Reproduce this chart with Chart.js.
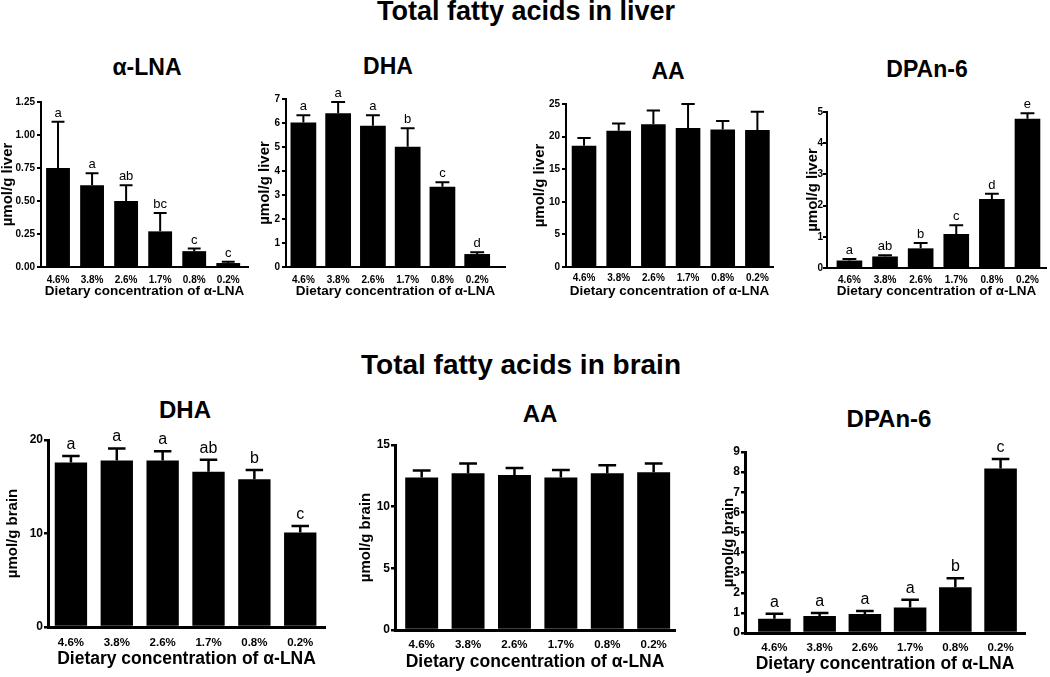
<!DOCTYPE html>
<html>
<head>
<meta charset="utf-8">
<script src="https://cdn.jsdelivr.net/npm/chart.js@4.4.1/dist/chart.umd.min.js"></script>
<style>
  body { margin: 0; background: #fff; }
  #fig { position: relative; width: 1050px; height: 677px; overflow: hidden; background: #fff;
         font-family: "Liberation Sans", Arial, sans-serif; color: #000; }
  .ttl { position: absolute; font-weight: bold; white-space: nowrap; transform: translateX(-50%); }
  canvas { position: absolute; }
</style>
</head>
<body>
<div id="fig"></div>
<script>
// ---- data ----
const categories = ['4.6%', '3.8%', '2.6%', '1.7%', '0.8%', '0.2%'];

// liver
const liverLnaMean = [0.75, 0.62, 0.50, 0.27, 0.12, 0.03];
const liverLnaSem = [0.35, 0.09, 0.12, 0.14, 0.02, 0.01];
const liverLnaLetters = ['a', 'a', 'ab', 'bc', 'c', 'c'];
const liverLnaTicks = ['0.00', '0.25', '0.50', '0.75', '1.00', '1.25'];

const liverDhaMean = [6.02, 6.41, 5.89, 5.01, 3.34, 0.54];
const liverDhaSem = [0.30, 0.47, 0.43, 0.77, 0.19, 0.07];
const liverDhaLetters = ['a', 'a', 'a', 'b', 'c', 'd'];
const liverDhaTicks = ['0', '1', '2', '3', '4', '5', '6', '7'];

const liverAaMean = [18.6, 20.9, 21.9, 21.3, 21.1, 21.0];
const liverAaSem = [1.2, 1.1, 2.1, 3.7, 1.3, 2.8];
const liverAaLetters = [];
const liverAaTicks = ['0', '5', '10', '15', '20', '25'];

const liverDpaMean = [0.24, 0.37, 0.63, 1.09, 2.21, 4.78];
const liverDpaSem = [0.05, 0.04, 0.17, 0.28, 0.17, 0.18];
const liverDpaLetters = ['a', 'ab', 'b', 'c', 'd', 'e'];
const liverDpaTicks = ['0', '1', '2', '3', '4', '5'];

// brain
const brainDhaMean = [17.6, 17.8, 17.8, 16.6, 15.8, 10.1];
const brainDhaSem = [0.7, 1.3, 1.0, 1.3, 1.0, 0.7];
const brainDhaLetters = ['a', 'a', 'a', 'ab', 'b', 'c'];
const brainDhaTicks = ['0', '10', '20'];

const brainAaMean = [12.36, 12.71, 12.57, 12.36, 12.71, 12.79];
const brainAaSem = [0.57, 0.79, 0.57, 0.62, 0.65, 0.71];
const brainAaLetters = [];
const brainAaTicks = ['0', '5', '10', '15'];

const brainDpaMean = [0.71, 0.84, 0.94, 1.27, 2.28, 8.18];
const brainDpaSem = [0.25, 0.16, 0.16, 0.38, 0.44, 0.47];
const brainDpaLetters = ['a', 'a', 'a', 'a', 'b', 'c'];
const brainDpaTicks = ['0', '1', '2', '3', '4', '5', '6', '7', '8', '9'];

const xTitle = 'Dietary concentration of \u03b1-LNA';

// ---- layout ----
const FONT = '"Liberation Sans", Arial, sans-serif';
Chart.defaults.font.family = FONT;
Chart.defaults.color = '#000';

const rowStyle = {
  top: { xTick: 10, yTick: 10, xTitle: 13.5, yTitle: 15, letter: 13, gap: 5, axis: 2, err: 2, tick: 4 },
  bottom: { xTick: 11.5, yTick: 12, xTitle: 17.5, yTitle: 15, letter: 16, gap: 7, axis: 3, err: 2.5, tick: 4 }
};

const headings = [
  { text: 'Total fatty acids in liver', x: 526, top: -2, size: 27 },
  { text: 'Total fatty acids in brain', x: 521, top: 351, size: 28 },
  { text: '\u03b1-LNA', x: 147, top: 55.5, size: 23 },
  { text: 'DHA', x: 388, top: 54.5, size: 23 },
  { text: 'AA', x: 668, top: 59.5, size: 23 },
  { text: 'DPAn-6', x: 927, top: 57.5, size: 23 },
  { text: 'DHA', x: 185, top: 398, size: 24 },
  { text: 'AA', x: 540, top: 402, size: 24 },
  { text: 'DPAn-6', x: 889, top: 407, size: 24 }
];

const panels = [
  { row: 'top', mean: liverLnaMean, sem: liverLnaSem, letters: liverLnaLetters, ticks: liverLnaTicks, yLabel: '\u00b5mol/g liver',
    left: 0, top: 80, bottom: 298, L: 41, T: 102, B: 267, R: 248, xPad: 7, yPad: 2, xMin: -0.5, xMax: 5.58, bar: 0.70 },
  { row: 'top', mean: liverDhaMean, sem: liverDhaSem, letters: liverDhaLetters, ticks: liverDhaTicks, yLabel: '\u00b5mol/g liver',
    left: 257, top: 77, bottom: 298, L: 286, T: 99, B: 267, R: 505, xPad: 7, yPad: 2, xMin: -0.5, xMax: 5.80, bar: 0.74 },
  { row: 'top', mean: liverAaMean, sem: liverAaSem, letters: liverAaLetters, ticks: liverAaTicks, yLabel: '\u00b5mol/g liver',
    left: 532, top: 82, bottom: 298, L: 566, T: 104, B: 267, R: 773, xPad: 5, yPad: 2, xMin: -0.52, xMax: 5.45, bar: 0.71 },
  { row: 'top', mean: liverDpaMean, sem: liverDpaSem, letters: liverDpaLetters, ticks: liverDpaTicks, yLabel: '\u00b5mol/g liver',
    left: 805, top: 90, bottom: 298, L: 827, T: 112, B: 268, R: 1046, xPad: 6, yPad: 0, xMin: -0.63, xMax: 5.52, bar: 0.72 },
  { row: 'bottom', mean: brainDhaMean, sem: brainDhaSem, letters: brainDhaLetters, ticks: brainDhaTicks, yLabel: '\u00b5mol/g brain',
    left: 5, top: 418, bottom: 668, L: 48, T: 440, B: 627, R: 325, xPad: 9, yPad: 1, xMin: -0.5, xMax: 5.54, bar: 0.705 },
  { row: 'bottom', mean: brainAaMean, sem: brainAaSem, letters: brainAaLetters, ticks: brainAaTicks, yLabel: '\u00b5mol/g brain',
    left: 358, top: 423, bottom: 671, L: 395, T: 445, B: 630, R: 675, xPad: 8, yPad: 1, xMin: -0.575, xMax: 5.46, bar: 0.71 },
  { row: 'bottom', mean: brainDpaMean, sem: brainDpaSem, letters: brainDpaLetters, ticks: brainDpaTicks, yLabel: '\u00b5mol/g brain',
    left: 721, top: 430, bottom: 673, L: 745, T: 452, B: 633, R: 1025, xPad: 8, yPad: 1, xMin: -0.65, xMax: 5.54, bar: 0.72 }
];

const fig = document.getElementById('fig');

headings.forEach(h => {
  const d = document.createElement('div');
  d.className = 'ttl';
  d.textContent = h.text;
  d.style.left = h.x + 'px';
  d.style.top = h.top + 'px';
  d.style.fontSize = h.size + 'px';
  d.style.lineHeight = h.size + 'px';
  fig.appendChild(d);
});

// upper error bar + significance letter above each bar
function errorPlugin(p, st) {
  return {
    id: 'errorBars',
    afterDatasetsDraw(chart) {
      const { ctx, scales: { y } } = chart;
      const meta = chart.getDatasetMeta(0);
      ctx.save();
      ctx.strokeStyle = '#000';
      ctx.fillStyle = '#000';
      ctx.lineWidth = st.err;
      ctx.font = st.letter + 'px ' + FONT;
      ctx.textAlign = 'center';
      ctx.textBaseline = 'alphabetic';
      meta.data.forEach((bar, i) => {
        const yTop = y.getPixelForValue(p.mean[i] + p.sem[i]);
        const half = bar.width * 0.27;
        ctx.beginPath();
        ctx.moveTo(bar.x, bar.y);
        ctx.lineTo(bar.x, yTop);
        ctx.moveTo(bar.x - half, yTop);
        ctx.lineTo(bar.x + half, yTop);
        ctx.stroke();
        if (p.letters[i]) ctx.fillText(p.letters[i], bar.x, yTop - st.gap);
      });
      ctx.restore();
    }
  };
}

panels.forEach(p => {
  const st = rowStyle[p.row];
  const cv = document.createElement('canvas');
  const w = p.R + 4 - p.left;
  const h = p.bottom - p.top;
  cv.width = w;
  cv.height = h;
  cv.style.left = p.left + 'px';
  cv.style.top = p.top + 'px';
  cv.style.width = w + 'px';
  cv.style.height = h + 'px';
  fig.appendChild(cv);

  const yW = p.L - p.left;
  const xH = p.bottom - p.B;
  const tickVals = p.ticks.map(t => parseFloat(t));

  new Chart(cv, {
    type: 'bar',
    data: {
      datasets: [{
        data: p.mean.map((v, i) => ({ x: i, y: v })),
        backgroundColor: '#000',
        borderWidth: 0,
        barPercentage: p.bar,
        categoryPercentage: 1
      }]
    },
    options: {
      responsive: false,
      animation: false,
      devicePixelRatio: 1,
      layout: { padding: { top: p.T - p.top, right: 4, left: 0, bottom: 0 } },
      plugins: { legend: { display: false }, tooltip: { enabled: false } },
      scales: {
        x: {
          type: 'linear',
          min: p.xMin,
          max: p.xMax,
          offset: false,
          grid: { display: true, offset: false, drawOnChartArea: false, drawTicks: false },
          border: { display: true, color: '#000', width: st.axis },
          afterBuildTicks: s => { s.ticks = categories.map((c, i) => ({ value: i })); },
          afterFit: s => { s.height = xH; },
          ticks: {
            autoSkip: false,
            maxRotation: 0,
            padding: p.xPad,
            font: { size: st.xTick, weight: 'bold' },
            color: '#000',
            callback: (v) => categories[v]
          },
          title: {
            display: true,
            text: xTitle,
            color: '#000',
            padding: 0,
            font: { size: st.xTitle, weight: 'bold', lineHeight: 1 }
          }
        },
        y: {
          type: 'linear',
          min: 0,
          max: tickVals[tickVals.length - 1],
          grid: { display: true, drawOnChartArea: false, drawTicks: true, tickLength: st.tick, lineWidth: st.err, color: '#000' },
          border: { display: true, color: '#000', width: st.axis },
          afterBuildTicks: s => { s.ticks = tickVals.map(v => ({ value: v })); },
          afterFit: s => { s.width = yW; },
          ticks: {
            padding: p.yPad,
            font: { size: st.yTick, weight: 'bold' },
            color: '#000',
            callback: (v, i) => p.ticks[i]
          },
          title: {
            display: true,
            text: p.yLabel,
            color: '#000',
            padding: 0,
            font: { size: st.yTitle, weight: 'bold', lineHeight: 1 }
          }
        }
      }
    },
    plugins: [errorPlugin(p, st)]
  });
});
</script>
</body>
</html>
